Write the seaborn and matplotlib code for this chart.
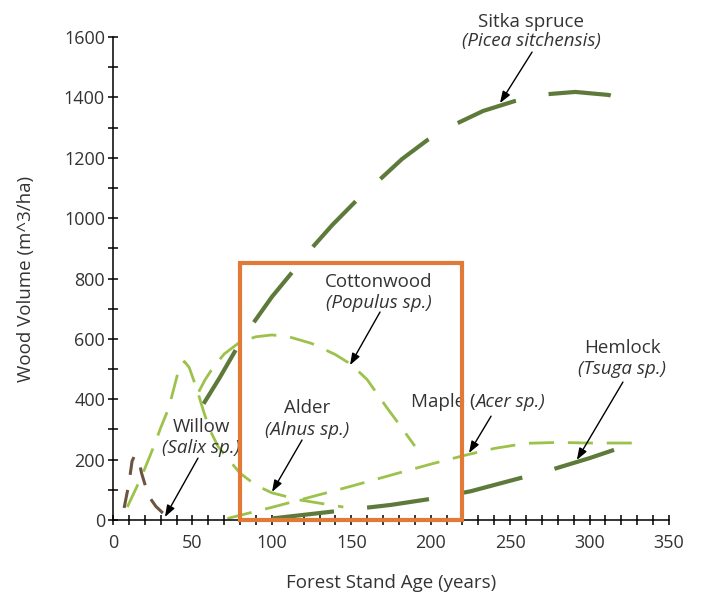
import numpy as np
import pandas as pd
import matplotlib
matplotlib.use('Agg')
import matplotlib.pyplot as plt
from matplotlib.patches import Rectangle
import seaborn as sns

# DATOS
sitka_age = [57, 67, 78, 88, 100, 113, 125, 138, 153, 168, 182, 198, 215, 233, 253, 272, 291, 312, 331]
sitka_vol = [385, 470, 570, 650, 739, 822, 900, 977, 1057, 1128, 1196, 1259, 1310, 1355, 1388, 1410, 1418, 1408, 1378]

cotton_age = [54, 58, 63, 70, 80, 90, 100, 110, 125, 140, 150, 160, 172, 180, 190]
cotton_vol = [425, 465, 505, 550, 590, 607, 613, 608, 585, 548, 515, 465, 375, 318, 245]

alder_age = [9, 15, 20, 25, 30, 35, 39, 42, 45, 48, 53, 57, 61, 66, 72, 80, 90, 100, 118, 145]
alder_vol = [43, 110, 170, 235, 305, 370, 450, 510, 525, 505, 430, 360, 298, 245, 205, 155, 115, 90, 66, 43]

willow_age = [7, 10, 12, 13.5, 16, 18, 20, 23, 27, 31, 34]
willow_vol = [40, 120, 195, 212, 205, 155, 120, 75, 45, 25, 12]

maple_age = [72, 100, 118, 150, 180, 200, 222, 240, 260, 280, 300, 330]
maple_vol = [5, 42, 67, 112, 156, 185, 215, 237, 254, 257, 255, 255]

hemlock_age = [100, 125, 150, 175, 200, 225, 250, 275, 300, 322]
hemlock_vol = [5, 20, 35, 50, 70, 95, 130, 165, 205, 244]

highlight_start, highlight_end, highlight_top = 80, 220, 850

x_ticks = list(range(0, 351, 50))
y_ticks = list(range(0, 1601, 200))

# ESTILO
sns.set_style("white")
plt.rcParams['font.family'] = ['Open Sans', 'DejaVu Sans']

TXT = "#333333"
DARK = "#5e7a3b"
LIGHT = "#9cc24b"
BROWN = "#6b5441"
ORANGE = "#e17a37"
FS = 13.5

fig = plt.figure(figsize=(7.06, 5.95), dpi=100)
ax = fig.add_axes([113/706, 75/595, 556/706, 483/595])

series = [
    (sitka_age, sitka_vol, DARK, 3.0, (15, 8)),
    (hemlock_age, hemlock_vol, DARK, 3.0, (15, 8)),
    (cotton_age, cotton_vol, LIGHT, 2.0, (9, 5)),
    (alder_age, alder_vol, LIGHT, 2.0, (9, 5)),
    (maple_age, maple_vol, LIGHT, 2.0, (9, 5)),
    (willow_age, willow_vol, BROWN, 2.2, (6, 5)),
]
for ages, vols, col, lw, dash in series:
    df = pd.DataFrame({"age": ages, "vol": vols})
    sns.lineplot(data=df, x="age", y="vol", color=col, lw=lw,
                 estimator=None, sort=False, ax=ax)
    line = ax.lines[-1]
    line.set_dashes(dash)
    line.set_dash_capstyle('butt')
    line.set_solid_joinstyle('round')

# Rectangulo naranja
ax.add_patch(Rectangle((highlight_start, 0), highlight_end - highlight_start, highlight_top,
                       fill=False, edgecolor=ORANGE, lw=3.0, clip_on=False, zorder=5))

# EJES
ax.set_xlim(0, 350)
ax.set_ylim(0, 1600)
ax.set_xticks(x_ticks)
ax.set_yticks(y_ticks)
ax.set_xticks(range(0, 351, 10), minor=True)
ax.set_yticks(range(0, 1601, 100), minor=True)
ax.tick_params(axis='both', which='both', direction='inout', length=6.5, width=1.1,
               color='black', labelsize=13, labelcolor=TXT)
ax.tick_params(axis='x', which='major', pad=6.5)
ax.tick_params(axis='y', which='major', pad=2.5)
ax.tick_params(bottom=True, left=True, which='both')
sns.despine(ax=ax)
for s in ['left', 'bottom']:
    ax.spines[s].set_linewidth(1.1)
    ax.spines[s].set_color('black')

ax.set_xlabel("Forest Stand Age (years)", fontsize=FS, color=TXT)
ax.set_ylabel("Wood Volume (m^3/ha)", fontsize=FS, color=TXT)
ax.xaxis.set_label_coords(0.5, -0.112)
ax.yaxis.set_label_coords(-0.14, 0.5)

# ANOTACIONES
arrow = dict(arrowstyle='-|>,head_length=0.5,head_width=0.18', color='black',
             lw=1.0, mutation_scale=14, shrinkA=0, shrinkB=0)
labels = [
    ("Sitka spruce", "(Picea sitchensis)", 263.1, 1633, 1570, (243.6, 1381), (263.8, 1550)),
    ("Cottonwood", "(Populus sp.)", 167.1, 772, 702, (149.2, 513), (168.1, 689)),
    ("Alder", "(Alnus sp.)", 122.1, 354, 282, (100.1, 93), (119.0, 265)),
    ("Willow", "(Salix sp.)", 55.4, 291, 222, (32.7, 10), (53.5, 205)),
    ("Hemlock", "(Tsuga sp.)", 320.7, 553, 484, (292.0, 199), (321.0, 457)),
]
for l1, l2, xc, y1, y2, tip, tail in labels:
    ax.text(xc, y1, l1, ha='center', va='baseline', fontsize=FS, color=TXT, clip_on=False)
    ax.text(xc, y2, l2, ha='center', va='baseline', fontsize=FS, color=TXT,
            style='italic', clip_on=False)
    ax.annotate("", xy=tip, xytext=tail, arrowprops=arrow, annotation_clip=False)

ax.text(228.5, 374, "Maple (", ha='right', va='baseline', fontsize=FS, color=TXT)
ax.text(228.0, 374, "Acer sp.)", ha='left', va='baseline', fontsize=FS, color=TXT,
        style='italic')
ax.annotate("", xy=(224.1, 222), xytext=(238.0, 344), arrowprops=arrow)

plt.savefig("out.png", dpi=100)
plt.close()
